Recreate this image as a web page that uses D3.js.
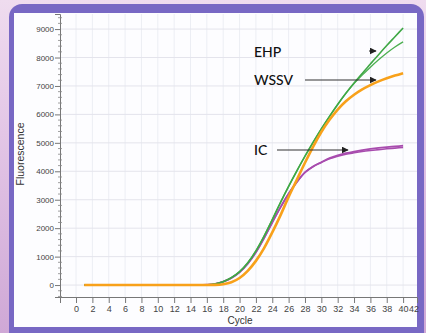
<!DOCTYPE html>
<html><head><meta charset="utf-8">
<script src="https://cdn.jsdelivr.net/npm/d3@7/dist/d3.min.js"></script>
<style>
html,body{margin:0;padding:0;}
body{width:426px;height:333px;overflow:hidden;background:linear-gradient(180deg,#efdcef 0%,#e3c6e6 40%,#cfa8d6 100%);}
svg{display:block;}
</style></head>
<body>
<svg id="chart" width="426" height="333"></svg>
<script>
const cycles = d3.range(1, 41);
const xTicks = d3.range(0, 41, 2);
const yTicks = [0,1000,2000,3000,4000,5000,6000,7000,8000,9000];
const ehp1 = [0,0,0,0,0,0,0,0,0,0,0,0,0,0,0,10,40,120,260,470,780,1200,1720,2300,2900,3470,4010,4530,5020,5490,5930,6350,6740,7100,7440,7770,8100,8420,8730,9040];
const ehp2 = [0,0,0,0,0,0,0,0,0,0,0,0,0,0,0,10,40,120,260,470,780,1200,1720,2300,2900,3470,4010,4530,5020,5490,5930,6350,6740,7080,7380,7660,7920,8160,8370,8550];
const wssv = [0,0,0,0,0,0,0,0,0,0,0,0,0,0,0,0,5,30,100,250,500,850,1300,1850,2450,3100,3700,4300,4870,5380,5810,6170,6460,6690,6880,7030,7160,7270,7365,7450];
const ic1 = [0,0,0,0,0,0,0,0,0,0,0,0,0,0,0,10,40,120,250,450,750,1150,1650,2200,2730,3210,3620,3960,4170,4320,4460,4560,4635,4695,4745,4785,4820,4850,4875,4900];
const ic2 = [0,0,0,0,0,0,0,0,0,0,0,0,0,0,0,10,40,120,250,450,750,1150,1650,2200,2730,3210,3620,3960,4170,4310,4440,4530,4600,4650,4695,4730,4760,4790,4815,4840];

const svg = d3.select("#chart");
// frame
svg.append("rect").attr("x",9).attr("y",4).attr("width",415).attr("height",345).attr("rx",13).attr("fill","#7868c4");
svg.append("rect").attr("x",14).attr("y",13).attr("width",403).attr("height",314).attr("fill","#fdfdff");

const x = d3.scaleLinear().domain([-1.96, 41.7]).range([60, 417]);
const y = d3.scaleLinear().domain([-420, 9530]).range([297, 14]);

// grid
const g = svg.append("g");
g.selectAll(".vg").data(xTicks).join("line")
  .attr("x1", d=>x(d)).attr("x2", d=>x(d)).attr("y1", 14).attr("y2", 297)
  .attr("stroke","#eceef4").attr("stroke-width",1);
g.selectAll(".hg").data(yTicks).join("line")
  .attr("x1", 60).attr("x2", 417).attr("y1", d=>y(d)).attr("y2", d=>y(d))
  .attr("stroke","#e4e4ec").attr("stroke-width",1);

// axes
const xAxis = d3.axisBottom(x).tickValues(xTicks).tickSizeOuter(0).tickSize(6).tickPadding(3);
const xa = svg.append("g").attr("transform","translate(0,297)").call(xAxis);
xa.select(".domain").attr("stroke","#777");
xa.selectAll(".tick line").attr("stroke","#777");
xa.selectAll("text").attr("font-family","Liberation Sans, Arial, sans-serif").attr("font-size",9).attr("fill","#444");
xa.append("text").text("42").attr("x", x(40)+6).attr("y", 15).attr("text-anchor","start")
  .attr("font-family","Liberation Sans, Arial, sans-serif").attr("font-size",9).attr("fill","#444");

const yAxis = d3.axisLeft(y).tickValues(yTicks).tickSizeOuter(0).tickSize(5).tickPadding(1).tickFormat(d3.format("d"));
const ya = svg.append("g").attr("transform","translate(60,0)").call(yAxis);
ya.select(".domain").attr("stroke","#777");
ya.selectAll(".tick line").attr("stroke","#777");
ya.selectAll("text").attr("font-family","Liberation Sans, Arial, sans-serif").attr("font-size",8).attr("fill","#444");
// minor ticks
const minor = d3.range(-400, 9501, 200).filter(v => v % 1000 !== 0);
ya.selectAll(".mt").data(minor).join("line")
  .attr("x1",-2).attr("x2",2).attr("y1",d=>y(d)).attr("y2",d=>y(d)).attr("stroke","#888").attr("stroke-width",0.8);

svg.append("text").text("Cycle").attr("x",240).attr("y",324).attr("text-anchor","middle")
  .attr("font-family","Liberation Sans, Arial, sans-serif").attr("font-size",10).attr("fill","#333");
svg.append("text").text("Fluorescence").attr("transform","translate(24,154) rotate(-90)").attr("text-anchor","middle")
  .attr("font-family","Liberation Sans, Arial, sans-serif").attr("font-size",10.5).attr("fill","#333");

// curves
const line = d3.line().x((d,i)=>x(cycles[i])).y(d=>y(d)).curve(d3.curveMonotoneX);
const series = [
  {v: ic2, c:"#a84cae", w:1.6},
  {v: ic1, c:"#a84cae", w:1.8},
  {v: ehp2, c:"#4caf50", w:1.3},
  {v: ehp1, c:"#3fa845", w:1.6},
  {v: wssv, c:"#f8a11a", w:2.6}
];
svg.append("g").selectAll("path").data(series).join("path")
  .attr("d", d=>line(d.v)).attr("fill","none").attr("stroke",d=>d.c).attr("stroke-width",d=>d.w)
  .attr("stroke-linejoin","round");

// annotations
const defs = svg.append("defs");
defs.append("marker").attr("id","ah").attr("viewBox","0 0 10 10").attr("refX",9).attr("refY",5)
  .attr("markerWidth",7).attr("markerHeight",7).attr("markerUnits","userSpaceOnUse").attr("orient","auto")
  .append("path").attr("d","M0,0 L10,5 L0,10 Z").attr("fill","#222");
const labels = [
  {t:"EHP", tx:254, ty:57, x1:369, x2:376, y1:51},
  {t:"WSSV", tx:254, ty:85, x1:305, x2:376, y1:80},
  {t:"IC", tx:254, ty:155, x1:277, x2:348, y1:150}
];
const an = svg.append("g");
an.selectAll("text").data(labels).join("text").text(d=>d.t).attr("x",d=>d.tx).attr("y",d=>d.ty)
  .attr("font-family","Lato, 'Open Sans', sans-serif").attr("font-size",14).attr("font-weight",500).attr("fill","#111");
an.selectAll("line").data(labels).join("line").attr("x1",d=>d.x1).attr("x2",d=>d.x2).attr("y1",d=>d.y1).attr("y2",d=>d.y1)
  .attr("stroke","#333").attr("stroke-width",1.1).attr("marker-end","url(#ah)");
</script>
</body></html>
